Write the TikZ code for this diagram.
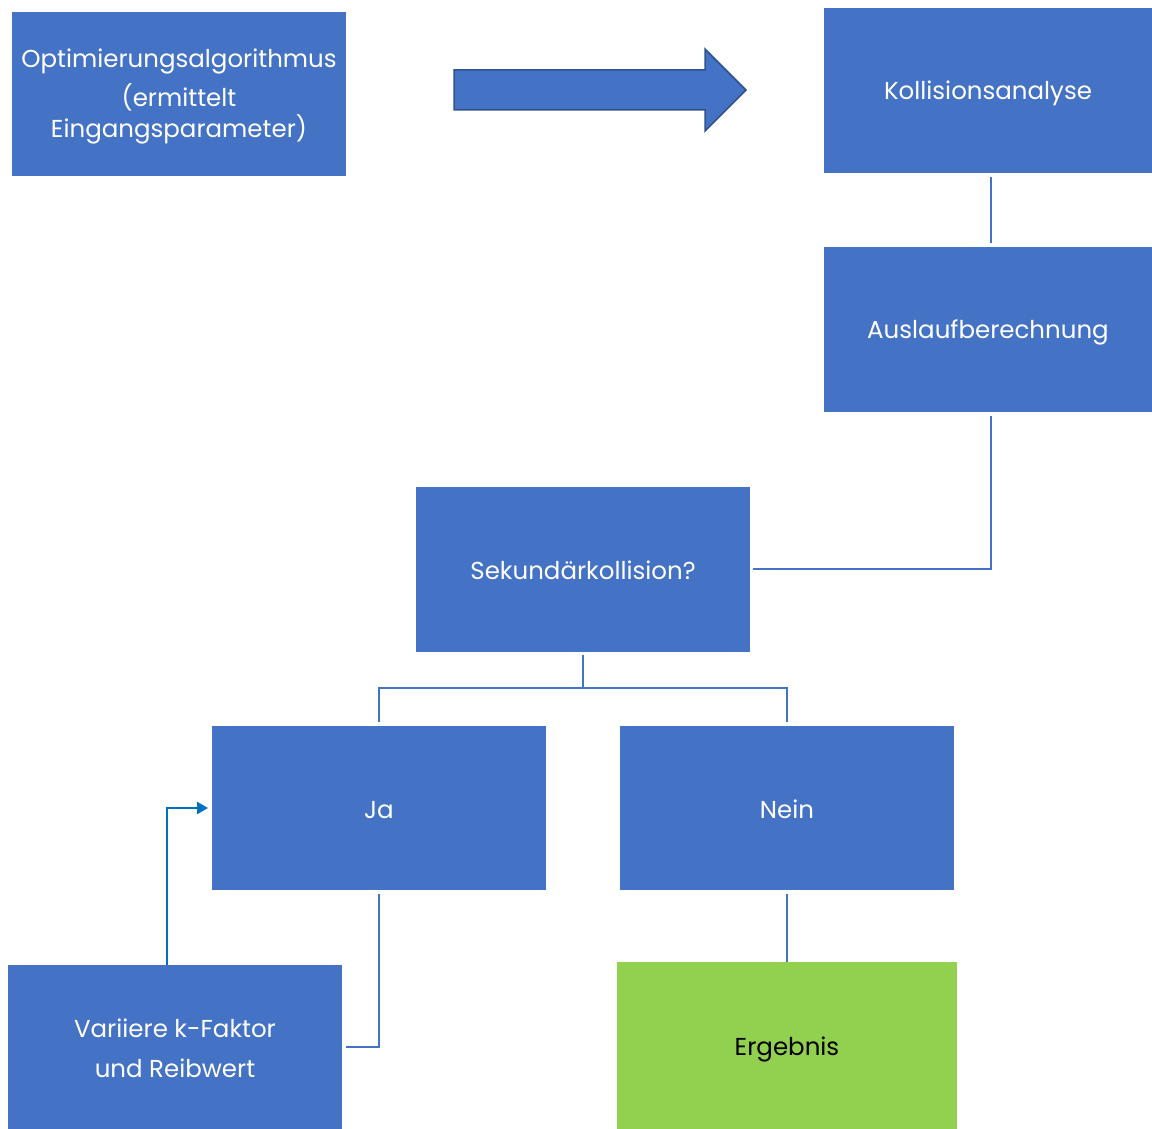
\documentclass[tikz,border=0pt]{standalone}
\usepackage{fontspec}
\setmainfont{Poppins}
\usetikzlibrary{arrows.meta}
\definecolor{boxblue}{HTML}{4472C4}
\definecolor{linkblue}{HTML}{4472C4}
\definecolor{arrowblue}{HTML}{0070C0}
\definecolor{okgreen}{HTML}{92D050}
\definecolor{edgeblue}{HTML}{2F528F}
\begin{document}
\begin{tikzpicture}[x=1pt,y=-1pt,
  flowbox/.style={fill=boxblue,draw=none,text=white,font=\fontsize{24.5}{31}\selectfont,align=center},
  link/.style={draw=linkblue,line width=2.6pt},
  loop/.style={draw=arrowblue,line width=2.4pt,-{Triangle[length=11pt,width=12pt]}}]
\useasboundingbox (0,0) rectangle (1152,1129);
% boxes
\path[flowbox] (12,12) rectangle (346,176) node[flowbox,pos=.5,yshift=-2pt] (opt) {Optimierungsalgorithmus\\[8pt](ermittelt\\Eingangsparameter)};
\path[flowbox] (824,8) rectangle (1152,173) node[flowbox,pos=.5,yshift=-3pt] (koll) {Kollisionsanalyse};
\path[flowbox] (824,247) rectangle (1152,412) node[flowbox,pos=.5,yshift=-3pt] (aus) {Auslaufberechnung};
\path[flowbox] (416,487) rectangle (750,652) node[flowbox,pos=.5,yshift=-1pt] (sek) {Sekundärkollision?};
\path[flowbox] (212,726) rectangle (546,890) node[flowbox,pos=.5,yshift=-2pt] (ja) {Ja};
\path[flowbox] (620,726) rectangle (954,890) node[flowbox,pos=.5,yshift=-1pt] (nein) {Nein};
\path[flowbox] (8,965) rectangle (342,1129) node[flowbox,pos=.5,yshift=-1pt] (var) {Variiere k-Faktor\\[9pt]und Reibwert};
\path[fill=okgreen] (617,962) rectangle (957,1129) node[flowbox,fill=none,text=black,pos=.5,yshift=-4pt] (erg) {Ergebnis};
% named anchor coordinates
\coordinate (kollB) at (991,177);
\coordinate (ausT) at (991,243);
\coordinate (ausB) at (991,416);
\coordinate (sekR) at (753,569);
\coordinate (sekB) at (583,655);
\coordinate (jaT) at (379,722);
\coordinate (neinT) at (787,722);
\coordinate (jaB) at (379,894);
\coordinate (varR) at (346,1047);
\coordinate (neinB) at (787,894);
\coordinate (ergT) at (787,962);
\coordinate (varT) at (167,965);
\coordinate (jaL) at (208,808);
% connectors
\draw[link] (kollB) -- (ausT);
\draw[link] (ausB) |- (sekR);
\draw[link] (sekB) -- (583,688) -| (jaT);
\draw[link] (583,688) -| (neinT);
\draw[link] (jaB) |- (varR);
\draw[link] (neinB) -- (ergT);
\draw[loop] (varT) |- (jaL);
% block arrow
\draw[fill=boxblue,draw=edgeblue,line width=1.5pt,line join=miter]
  (454,70) -- (705,70) -- (705,49) -- (746,90) -- (705,131) -- (705,110) -- (454,110) -- cycle;
\end{tikzpicture}
\end{document}
